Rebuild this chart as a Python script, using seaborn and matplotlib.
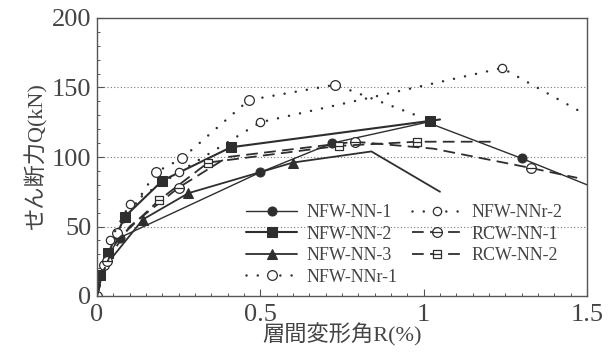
import numpy as np
import pandas as pd
import matplotlib
matplotlib.use("Agg")
import matplotlib.pyplot as plt
from matplotlib.path import Path
import seaborn as sns

# ---- data ----
nn1_x = [0.0, 0.01, 0.03, 0.07, 0.50, 0.72, 1.01, 1.30, 1.50]
nn1_y = [0, 12, 28, 42, 89, 110, 125, 99, 80]

nn2_x = [0.0, 0.01, 0.035, 0.085, 0.20, 0.41, 1.02, 1.05]
nn2_y = [0, 15, 31, 57, 83, 107, 126, 127]

nn3_x = [0.0, 0.02, 0.14, 0.28, 0.60, 0.84, 1.05]
nn3_y = [0, 20, 55, 74, 96, 104, 75]

nnr1_x = [0.0, 0.02, 0.06, 0.18, 0.26, 0.465, 0.73, 1.00]
nnr1_y = [0, 22, 45, 89, 99, 141, 152, 128]

nnr2_x = [0.0, 0.04, 0.10, 0.25, 0.50, 1.24, 1.50]
nnr2_y = [0, 40, 66, 89, 125, 164, 130]

rcw1_x = [0.0, 0.03, 0.10, 0.25, 0.40, 0.79, 1.03, 1.33, 1.47]
rcw1_y = [0, 25, 50, 78, 100, 111, 106, 92, 85]

rcw2_x = [0.0, 0.02, 0.06, 0.19, 0.34, 0.74, 0.98, 1.22]
rcw2_y = [0, 18, 40, 69, 96, 108, 111, 111]

labels = ["NFW-NN-1", "NFW-NN-2", "NFW-NN-3", "NFW-NNr-1",
          "NFW-NNr-2", "RCW-NN-1", "RCW-NN-2"]
x_ticks = [0, 0.5, 1, 1.5]
x_ticklabels = ["0", "0.5", "1", "1.5"]
y_ticks = [0, 50, 100, 150, 200]
y_ticklabels = ["0", "50", "100", "150", "200"]

# ---- style ----
sns.set_theme(style="white")
plt.rcParams['font.family'] = ['Liberation Serif', 'Noto Sans CJK JP', 'DejaVu Sans']

LC = "#2e2e2e"
TC = "#444444"

# custom markers: circle with bar, square with bar
circ = Path.unit_circle()
bar = Path([[-1, 0], [1, 0]], [Path.MOVETO, Path.LINETO])
circ_bar = Path.make_compound_path(circ, bar)
sq = Path([[-1, -1], [1, -1], [1, 1], [-1, 1], [-1, -1]],
          [Path.MOVETO, Path.LINETO, Path.LINETO, Path.LINETO, Path.CLOSEPOLY])
sq_bar = Path.make_compound_path(sq, bar)

fig = plt.figure(figsize=(6.11, 3.54), dpi=100)
ax = fig.add_axes([97/611, 1-296/354, 490/611, 278/354])

dot = (0, (0.01, 4.5))
dash = (0, (6.5, 3.5))

series = [
    (nn1_x, nn1_y, labels[0], dict(linestyle='-', linewidth=1.0, marker='o', markersize=6.5,
                                   markerfacecolor=LC, markeredgecolor=LC,
                                   markevery=[3, 4, 5, 7])),
    (nn2_x, nn2_y, labels[1], dict(linestyle='-', linewidth=1.5, marker='s', markersize=6.5,
                                   markerfacecolor=LC, markeredgecolor=LC,
                                   markevery=[1, 2, 3, 4, 5, 6])),
    (nn3_x, nn3_y, labels[2], dict(linestyle='-', linewidth=1.3, marker='^', markersize=6.5,
                                   markerfacecolor=LC, markeredgecolor=LC,
                                   markevery=[2, 3, 4])),
    (nnr1_x, nnr1_y, labels[3], dict(linestyle=dot, linewidth=1.8, marker='o', markersize=7,
                                     markerfacecolor='white', markeredgecolor=LC,
                                     markeredgewidth=0.9, dash_capstyle='round',
                                     markevery=[0, 1, 2, 3, 4, 5, 6])),
    (nnr2_x, nnr2_y, labels[4], dict(linestyle=dot, linewidth=1.8, marker='o', markersize=6,
                                     markerfacecolor='white', markeredgecolor=LC,
                                     markeredgewidth=0.9, dash_capstyle='round',
                                     markevery=[1, 2, 3, 4, 5])),
    (rcw1_x, rcw1_y, labels[5], dict(linestyle=dash, linewidth=1.3, marker=circ_bar, markersize=7,
                                     markerfacecolor='white', markeredgecolor=LC,
                                     markeredgewidth=0.9, markevery=[1, 3, 5, 7])),
    (rcw2_x, rcw2_y, labels[6], dict(linestyle=dash, linewidth=1.3, marker=sq_bar, markersize=6,
                                     markerfacecolor='white', markeredgecolor=LC,
                                     markeredgewidth=0.9, markevery=[3, 4, 5, 6])),
]

for xs, ys, lab, kw in series:
    df = pd.DataFrame({"x": xs, "y": ys})
    sns.lineplot(data=df, x="x", y="y", ax=ax, color=LC, sort=False,
                 estimator=None, label=lab, **kw)

ax.set_xlim(0, 1.5)
ax.set_ylim(0, 200)
ax.set_xticks(x_ticks)
ax.set_xticklabels(x_ticklabels)
ax.set_yticks(y_ticks)
ax.set_yticklabels(y_ticklabels)
ax.set_xticks(np.arange(0, 1.5001, 0.05), minor=True)
ax.set_yticks(np.arange(0, 200.01, 10), minor=True)
ax.tick_params(which='major', direction='in', length=5, width=0.8, color="#555555",
               labelsize=19, labelcolor=TC, bottom=True, left=True)
ax.tick_params(axis='x', which='major', pad=6)
ax.tick_params(axis='y', which='major', pad=4)
ax.tick_params(which='minor', direction='in', length=2.5, width=0.7, color="#555555",
               bottom=True, left=True)

for y in [50, 100, 150]:
    ax.axhline(y, color="#777777", linestyle=(0, (1, 2)), linewidth=0.8, zorder=0)

for s in ax.spines.values():
    s.set_color("#555555")
    s.set_linewidth(1.0)

ax.set_xlabel("層間変形角R(%)", fontsize=16, color=TC, labelpad=-2)
ax.set_ylabel("せん断力Q(kN)", fontsize=16, color=TC, labelpad=3)

leg = ax.legend(ncol=2, loc='upper left', bbox_to_anchor=(0.305, 0.33),
                frameon=False, fontsize=13, handlelength=2.8, handletextpad=0.5,
                columnspacing=0.8, labelspacing=0.25, borderpad=0, borderaxespad=0)
for t in leg.get_texts():
    t.set_color(TC)

fig.savefig("out.png", dpi=100)
